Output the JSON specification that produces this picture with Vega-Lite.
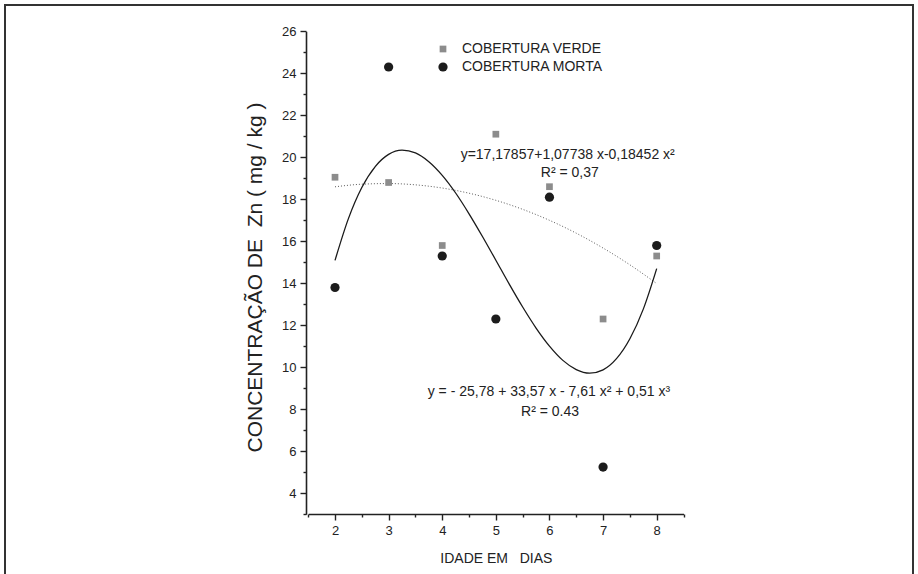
{
  "$schema": "https://vega.github.io/schema/vega-lite/v6.json",
  "width": 908,
  "height": 574,
  "autosize": {"type": "none"},
  "padding": {"left": 5, "top": 5, "right": 5, "bottom": -5},
  "background": "white",
  "config": {
    "view": {"stroke": "#333", "strokeWidth": 2},
    "font": "Liberation Sans",
    "axis": {
      "grid": false,
      "domainColor": "#222",
      "domainWidth": 1.6,
      "tickColor": "#222",
      "tickWidth": 1.4,
      "labelColor": "#222",
      "labelFont": "Liberation Sans",
      "labelFontSize": 13,
      "labelOverlap": false,
      "labelFlush": false,
      "titleFont": "Liberation Sans",
      "titleColor": "#222",
      "titleFontWeight": "normal"
    },
    "legend": {
      "labelFont": "Liberation Sans",
      "labelFontSize": 14,
      "labelColor": "#222",
      "symbolStrokeWidth": 0,
      "labelOffset": 12,
      "rowPadding": 4,
      "padding": 0
    }
  },
  "datasets": {
    "quad": [
      {"x": 2, "y": 18.595}, {"x": 2.5, "y": 18.719}, {"x": 3, "y": 18.75},
      {"x": 3.5, "y": 18.689}, {"x": 4, "y": 18.536}, {"x": 4.5, "y": 18.29},
      {"x": 5, "y": 17.952}, {"x": 5.5, "y": 17.522}, {"x": 6, "y": 17.0},
      {"x": 6.5, "y": 16.386}, {"x": 7, "y": 15.679}, {"x": 7.5, "y": 14.88},
      {"x": 8, "y": 13.988}
    ],
    "cubic": [
      {"x": 2, "y": 15.09}, {"x": 2.25, "y": 17.08}, {"x": 2.5, "y": 18.56},
      {"x": 2.75, "y": 19.56}, {"x": 3, "y": 20.14}, {"x": 3.25, "y": 20.34},
      {"x": 3.5, "y": 20.21}, {"x": 3.75, "y": 19.79}, {"x": 4, "y": 19.14},
      {"x": 4.25, "y": 18.3}, {"x": 4.5, "y": 17.31}, {"x": 4.75, "y": 16.23},
      {"x": 5, "y": 15.1}, {"x": 5.25, "y": 13.96}, {"x": 5.5, "y": 12.87},
      {"x": 5.75, "y": 11.87}, {"x": 6, "y": 11.01}, {"x": 6.25, "y": 10.33},
      {"x": 6.5, "y": 9.89}, {"x": 6.75, "y": 9.72}, {"x": 7, "y": 9.88},
      {"x": 7.25, "y": 10.41}, {"x": 7.5, "y": 11.36}, {"x": 7.75, "y": 12.77},
      {"x": 8, "y": 14.7}
    ],
    "pts": [
      {"x": 2, "y": 19.05, "serie": "COBERTURA VERDE"},
      {"x": 3, "y": 18.8, "serie": "COBERTURA VERDE"},
      {"x": 4, "y": 15.8, "serie": "COBERTURA VERDE"},
      {"x": 5, "y": 21.1, "serie": "COBERTURA VERDE"},
      {"x": 6, "y": 18.6, "serie": "COBERTURA VERDE"},
      {"x": 7, "y": 12.3, "serie": "COBERTURA VERDE"},
      {"x": 8, "y": 15.3, "serie": "COBERTURA VERDE"},
      {"x": 2, "y": 13.8, "serie": "COBERTURA MORTA"},
      {"x": 3, "y": 24.3, "serie": "COBERTURA MORTA"},
      {"x": 4, "y": 15.3, "serie": "COBERTURA MORTA"},
      {"x": 5, "y": 12.3, "serie": "COBERTURA MORTA"},
      {"x": 6, "y": 18.1, "serie": "COBERTURA MORTA"},
      {"x": 7, "y": 5.25, "serie": "COBERTURA MORTA"},
      {"x": 8, "y": 15.8, "serie": "COBERTURA MORTA"}
    ],
    "notes": [
      {"x": 6.34, "y": 20.11, "label": "y=17,17857+1,07738 x-0,18452 x²"},
      {"x": 6.38, "y": 19.23, "label": "R² = 0,37"},
      {"x": 5.99, "y": 8.84, "label": "y = - 25,78 + 33,57 x - 7,61 x² + 0,51 x³"},
      {"x": 6.01, "y": 7.89, "label": "R² = 0.43"}
    ]
  },
  "resolve": {"axis": {"x": "independent", "y": "independent"}},
  "layer": [
    {
      "data": {"name": "quad"},
      "mark": {"type": "line", "stroke": "#5a5a5a", "strokeWidth": 1, "strokeDash": [1, 2], "interpolate": "monotone"},
      "encoding": {
        "x": {
          "field": "x", "type": "quantitative",
          "scale": {"domain": [1.5, 8.5], "range": [303.2, 678.5], "nice": false, "zero": false},
          "axis": {
            "orient": "bottom",
            "title": "IDADE EM\u00a0\u00a0 DIAS",
            "titleFontSize": 14,
            "titleBaseline": "middle",
            "titleY": 44,
            "offset": -65,
            "format": "d",
            "values": [2, 3, 4, 5, 6, 7, 8],
            "tickSize": 6,
            "labelPadding": 4
          }
        },
        "y": {
          "field": "y", "type": "quantitative",
          "scale": {"domain": [3, 26], "range": [509.3, 26.3], "nice": false, "zero": false},
          "axis": {
            "orient": "left",
            "title": "CONCENTRAÇÃO DE\u00a0 Zn ( mg / kg )",
            "titleFontSize": 21,
            "titleBaseline": "middle",
            "titleX": -51,
            "titleY": 272,
            "offset": -301,
            "format": "d",
            "values": [4, 6, 8, 10, 12, 14, 16, 18, 20, 22, 24, 26],
            "tickSize": 6,
            "labelPadding": 4
          }
        }
      }
    },
    {
      "data": {"name": "cubic"},
      "mark": {"type": "line", "stroke": "#1a1a1a", "strokeWidth": 1.3, "interpolate": "monotone"},
      "encoding": {
        "x": {
          "field": "x", "type": "quantitative",
          "axis": {
            "orient": "bottom",
            "title": null,
            "offset": -65,
            "values": [1.5, 2.5, 3.5, 4.5, 5.5, 6.5, 7.5, 8.5],
            "tickSize": 3,
            "labels": false,
            "domain": false
          }
        },
        "y": {
          "field": "y", "type": "quantitative",
          "axis": {
            "orient": "left",
            "title": null,
            "offset": -301,
            "values": [3, 5, 7, 9, 11, 13, 15, 17, 19, 21, 23, 25],
            "tickSize": 3,
            "labels": false,
            "domain": false
          }
        }
      }
    },
    {
      "data": {"name": "pts"},
      "mark": {"type": "point", "filled": true, "opacity": 1, "strokeWidth": 0},
      "encoding": {
        "x": {"field": "x", "type": "quantitative", "axis": null},
        "y": {"field": "y", "type": "quantitative", "axis": null},
        "color": {
          "field": "serie", "type": "nominal",
          "scale": {"domain": ["COBERTURA VERDE", "COBERTURA MORTA"], "range": ["#8c8c8c", "#1c1c1c"]},
          "legend": {"title": null, "orient": "none", "legendX": 431, "legendY": 37}
        },
        "shape": {
          "field": "serie", "type": "nominal",
          "scale": {"domain": ["COBERTURA VERDE", "COBERTURA MORTA"], "range": ["square", "circle"]},
          "legend": {"title": null, "orient": "none", "legendX": 431, "legendY": 37}
        },
        "size": {
          "field": "serie", "type": "nominal",
          "scale": {"domain": ["COBERTURA VERDE", "COBERTURA MORTA"], "range": [45, 85]},
          "legend": {"title": null, "orient": "none", "legendX": 431, "legendY": 37}
        }
      }
    },
    {
      "data": {"name": "notes"},
      "mark": {"type": "text", "fontSize": 14, "fill": "#222", "align": "center", "baseline": "middle"},
      "encoding": {
        "x": {"field": "x", "type": "quantitative", "axis": null},
        "y": {"field": "y", "type": "quantitative", "axis": null},
        "text": {"field": "label", "type": "nominal"}
      }
    }
  ]
}
